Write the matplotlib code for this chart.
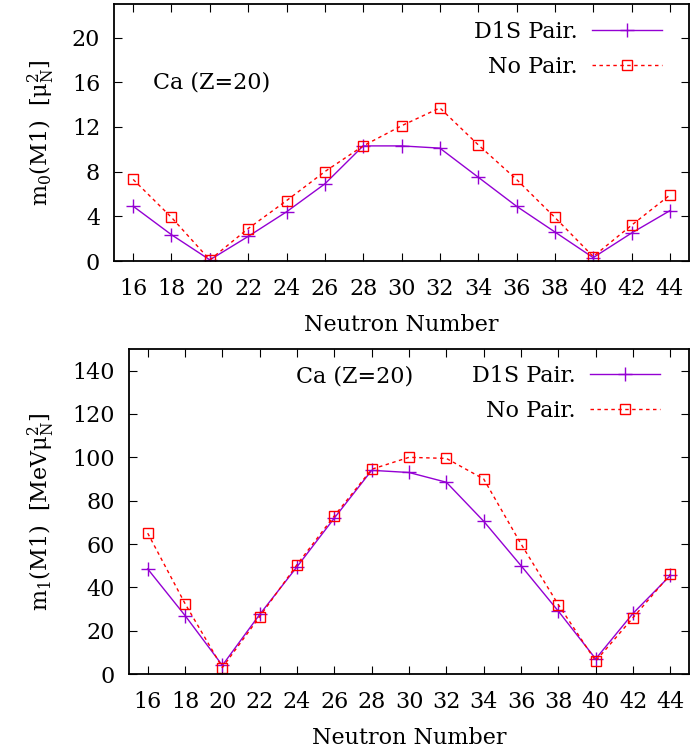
import matplotlib
matplotlib.use("Agg")
import matplotlib.pyplot as plt

plt.rcParams["font.family"] = "DejaVu Serif"
plt.rcParams["mathtext.fontset"] = "dejavuserif"

neutrons = [16, 18, 20, 22, 24, 26, 28, 30, 32, 34, 36, 38, 40, 42, 44]

# m0(M1) [mu_N^2]
m0_d1s = [4.9, 2.35, 0.1, 2.2, 4.4, 6.9, 10.3, 10.3, 10.1, 7.5, 4.9, 2.6, 0.3, 2.5, 4.5]
m0_nopair = [7.3, 3.9, 0.1, 2.9, 5.4, 8.0, 10.3, 12.1, 13.7, 10.4, 7.3, 3.9, 0.4, 3.2, 5.9]

# m1(M1) [MeV mu_N^2]
m1_d1s = [48.5, 27, 4, 27.5, 49.5, 72, 94, 93, 88.5, 70.5, 50, 29, 7, 28, 45.5]
m1_nopair = [65, 32.5, 3, 26.5, 50.5, 73, 94.5, 100, 99.5, 90, 60, 32, 6, 26, 46]

xticks = list(range(16, 45, 2))

purple = "#9400D3"
red = "#FF0000"
fs = 16

fig = plt.figure(figsize=(6.9, 7.5), dpi=100)
ax1 = fig.add_axes([0.1652, 0.652, 0.8334, 0.3427])
ax2 = fig.add_axes([0.187, 0.1013, 0.8116, 0.4334])


def draw(ax, d1s, nopair, ylim, yticks, ylabel, text_xy, leg_xy, ylab_x):
    ax.plot(neutrons, d1s, color=purple, lw=1, marker="+", ms=10, mew=1,
            label="D1S Pair.")
    ax.plot(neutrons, nopair, color=red, lw=1, ls=(0, (2.5, 2.5)), marker="s",
            ms=7.5, mfc="none", mew=1, label="No Pair.")
    ax.set_xlim(15, 45)
    ax.set_ylim(*ylim)
    ax.set_xticks(xticks)
    ax.set_yticks(yticks)
    ax.tick_params(direction="in", top=True, right=True, length=6, width=0.8,
                   labelsize=fs)
    ax.tick_params(axis="x", pad=12)
    ax.tick_params(axis="y", pad=10)
    for s in ax.spines.values():
        s.set_linewidth(1.3)
    ax.set_xlabel("Neutron Number", fontsize=fs, labelpad=10)
    ax.set_ylabel(ylabel, fontsize=fs)
    ax.yaxis.set_label_coords(ylab_x, 0.5)
    ax.text(*text_xy, "Ca (Z=20)", transform=ax.transAxes, fontsize=fs,
            va="center")
    ax.legend(loc="upper right", bbox_to_anchor=leg_xy, frameon=False,
              fontsize=fs, markerfirst=False, handlelength=3.15,
              handletextpad=0.65, labelspacing=0.6, borderpad=0,
              borderaxespad=0)


draw(ax1, m0_d1s, m0_nopair, (0, 23), range(0, 21, 4),
     "m$_0$(M1)  [μ$^{2}_{\\rm N}$]", (0.068, 0.693), (0.953, 0.935), -0.099)
draw(ax2, m1_d1s, m1_nopair, (0, 150), range(0, 141, 20),
     "m$_1$(M1)  [MeVμ$^{2}_{\\rm N}$]", (0.298, 0.914), (0.948, 0.952), -0.128)

fig.savefig("out.png", dpi=100)
